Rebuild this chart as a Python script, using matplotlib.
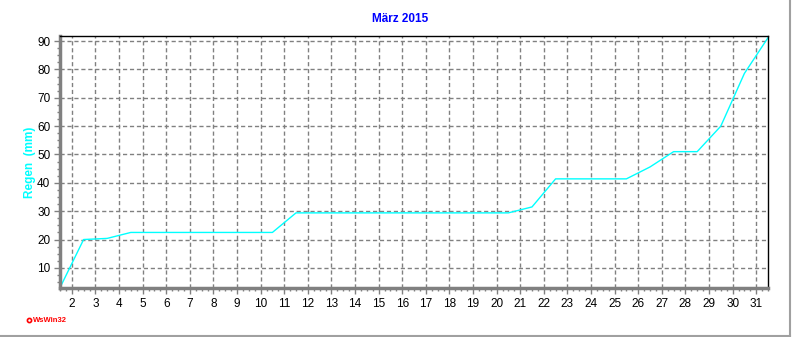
import matplotlib
matplotlib.use("Agg")
import matplotlib.pyplot as plt
from matplotlib.ticker import MultipleLocator, FixedLocator
from matplotlib.lines import Line2D

# Data: cumulative rain (mm) at end of each day of March 2015
days = list(range(1, 32))
rain = [3.0, 20.0, 20.4, 22.5, 22.5, 22.5, 22.5, 22.5, 22.5, 22.5,
        29.4, 29.4, 29.4, 29.4, 29.4, 29.4, 29.4, 29.4, 29.4, 29.4,
        31.5, 41.4, 41.4, 41.4, 41.4, 45.6, 51.0, 51.0, 60.0, 78.6, 91.2]
xticks = list(range(2, 32))
yticks = [10, 20, 30, 40, 50, 60, 70, 80, 90]

plt.rcParams['font.family'] = ['Liberation Sans', 'DejaVu Sans']

fig = plt.figure(figsize=(7.92, 3.37), dpi=100)
ax = fig.add_axes([60/792, 1-288/337, (768-60)/792, (288-36)/337])

xs = [d + 0.5 for d in days]
ax.plot(xs, rain, color='#00FFFF', lw=1.0)

ax.set_xlim(1.5, 31.5)
ax.set_ylim(min(rain) - 0.1, max(rain) + 0.6)

ax.xaxis.set_major_locator(FixedLocator(xticks))
ax.xaxis.set_minor_locator(MultipleLocator(0.25))
ax.yaxis.set_major_locator(FixedLocator(yticks))
ax.yaxis.set_minor_locator(MultipleLocator(2.5))

ax.grid(True, which='major', color='#808080', linestyle=(0, (3, 2)), lw=1.0)
ax.set_axisbelow(True)

for s in ['left', 'bottom']:
    ax.spines[s].set_color('#808080')
    ax.spines[s].set_linewidth(2.5)
for s in ['top', 'right']:
    ax.spines[s].set_color('black')
    ax.spines[s].set_linewidth(1.0)

ax.tick_params(axis='both', which='major', length=4, width=1, color='#808080',
               labelsize=8.5, labelcolor='black', pad=3)
ax.tick_params(axis='both', which='minor', length=2, width=1, color='#808080')

fig.text(0.505, 1-19/337, 'März 2015', color='#0000FF', fontsize=8.5,
         fontweight='bold', ha='center', va='center')
fig.text(30/792, 1-162/337, 'Regen  (mm)', color='#00FFFF', fontsize=8.5,
         fontweight='bold', rotation=90, ha='center', va='center')
fig.text(33/792, 1-320/337, 'WsWin32', color='#FF0000', fontsize=5.5,
         fontweight='bold', ha='left', va='center')
fig.add_artist(Line2D([28.5/792], [1-319.5/337], marker='o', markersize=3,
                      markerfacecolor='white', markeredgecolor='red',
                      markeredgewidth=1.2, transform=fig.transFigure))

# window frame lines (right and bottom)
fig.add_artist(Line2D([0, 790/792], [1-336/337, 1-336/337], color='#A0A0A0',
                      lw=1.5, transform=fig.transFigure))
fig.add_artist(Line2D([790/792, 790/792], [1-336/337, 1], color='#A0A0A0',
                      lw=1.5, transform=fig.transFigure))

fig.savefig('out.png', dpi=100)
